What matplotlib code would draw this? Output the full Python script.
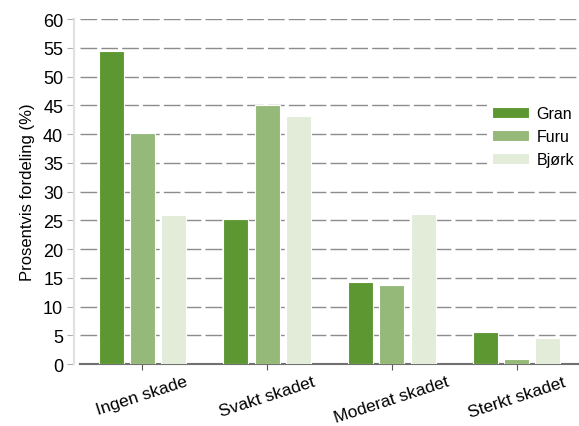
import numpy as np
import matplotlib.pyplot as plt

plt.rcParams['font.family'] = ['Liberation Sans', 'DejaVu Sans']

categories = ["Ingen skade", "Svakt skadet", "Moderat skadet", "Sterkt skadet"]
gran = [54.5, 25.2, 14.3, 5.6]
furu = [40.2, 45.0, 13.7, 0.8]
bjork = [25.9, 43.2, 26.1, 4.5]
series = ["Gran", "Furu", "Bjørk"]
colors = ["#5d9732", "#95b978", "#e2ecd9"]

fig = plt.figure(figsize=(5.79, 4.27), dpi=100)
ax = fig.add_axes([0.138, 0.145, 0.862, 0.808])

x = np.arange(len(categories))
w = 0.2
for i, (vals, name, c) in enumerate(zip([gran, furu, bjork], series, colors)):
    ax.bar(x + (i - 1) * 0.25, vals, w, color=c, label=name,
           edgecolor='white', linewidth=0.8, zorder=3)

ax.set_xlim(-0.5, 3.5)
ax.set_ylim(0, 60)
ax.set_yticks(range(0, 61, 5))
ax.set_xticks(x)
ax.set_xticklabels(categories, rotation=18, fontsize=12.5, ha='center')
ax.tick_params(axis='y', labelsize=13, length=5, color='#b0b0b0', pad=3)
ax.tick_params(axis='x', length=4, color='#555555', pad=3)

ax.yaxis.grid(True, color='#8c8c8c', linestyle=(0, (12, 3)), linewidth=1.0, zorder=0)
ax.set_axisbelow(True)

for s in ['top', 'right']:
    ax.spines[s].set_visible(False)
ax.spines['left'].set_color('#e0e0e0')
ax.spines['left'].set_linewidth(1.5)
ax.spines['left'].set_position(('outward', 4))
ax.spines['bottom'].set_color('#707070')
ax.spines['bottom'].set_linewidth(1.5)

ax.set_ylabel("Prosentvis fordeling (%)", fontsize=12, labelpad=6)

leg = ax.legend(loc='center right', bbox_to_anchor=(1.0, 0.66), frameon=True,
                fontsize=11.5, handlelength=2.3, handleheight=0.65,
                handletextpad=0.5, labelspacing=0.5, borderaxespad=0.0,
                borderpad=0.3)
leg.get_frame().set_edgecolor('none')
leg.get_frame().set_facecolor('white')
leg.get_frame().set_alpha(1)

fig.savefig("out.png", dpi=100)
